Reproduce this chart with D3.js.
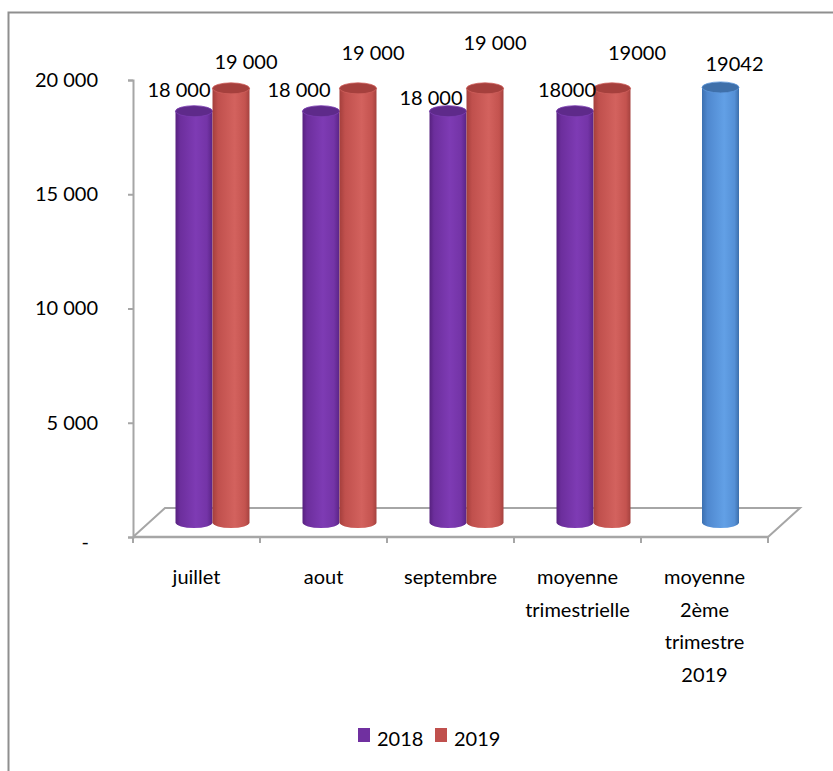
<!DOCTYPE html>
<html>
<head>
<meta charset="utf-8">
<script src="https://cdn.jsdelivr.net/npm/d3@7"></script>
<style>
  html, body { margin: 0; padding: 0; background: #fff; }
  svg { display: block; }
  text { font-family: Lato, "Liberation Sans", Arial, sans-serif; fill: #000; }
</style>
</head>
<body>
<svg id="chart" width="833" height="771"></svg>
<script>
// ---- data ----
const categories = ["juillet", "aout", "septembre", "moyenne\ntrimestrielle", "moyenne\n2ème\ntrimestre\n2019"];
const series2018 = [18000, 18000, 18000, 18000, null];
const series2019 = [19000, 19000, 19000, 19000, null];
const moyenne2019 = [null, null, null, null, 19042];
const groupedFormat = [true, true, true, false, false];
const yTicks = [0, 5000, 10000, 15000, 20000];
const legendLabels = ["2018", "2019"];

// label placement offsets (manual placement as in the original)
const labelOffset2018 = [[-15, -21], [-22, -21], [-17, -13], [-8, -21], null];
const labelOffset2019 = [[15, -26], [15, -35], [10, -45], [25, -35], null];
const labelOffsetMoy = [null, null, null, null, [14, -23]];

// ---- layout ----
const FONT = "Lato, 'Liberation Sans', Arial, sans-serif";
const svg = d3.select("#chart");
const axisX = 133, floorY = 537, topY = 80, rightX = 768;
const depth = { dx: 32, dy: -29 };
const mid = { dx: depth.dx / 2, dy: depth.dy / 2 };

const frFormat = d3.formatLocale({ decimal: ",", thousands: " ", grouping: [3] }).format(",");
const fmt = (v, i) => groupedFormat[i] ? frFormat(v) : String(v);

// frame
svg.append("rect").attr("x", 8.5).attr("y", 12.5).attr("width", 900).attr("height", 900)
  .attr("fill", "none").attr("stroke", "#8f8f8f").attr("stroke-width", 2);

const x = d3.scaleBand().domain(d3.range(categories.length)).range([axisX, rightX]).padding(0);
const y = d3.scaleLinear().domain([0, 20000]).range([floorY, topY]);
const inner = d3.scaleBand().domain(["2018", "2019"]).range([-37, 37]).padding(0);

const grey = "#a6a6a6";

// floor
svg.append("path")
  .attr("d", `M${axisX},${floorY} L${axisX + depth.dx},${floorY + depth.dy} L${rightX + depth.dx},${floorY + depth.dy} L${rightX},${floorY}`)
  .attr("fill", "none").attr("stroke", grey).attr("stroke-width", 2);

// y axis
const yAxis = d3.axisLeft(y).tickValues(yTicks).tickSize(5).tickPadding(30)
  .tickFormat(d => d === 0 ? "-" : frFormat(d));
const ya = svg.append("g").attr("transform", `translate(${axisX},0)`).call(yAxis);
ya.select(".domain").attr("stroke", grey).attr("stroke-width", 2);
ya.selectAll(".tick line").attr("stroke", grey).attr("stroke-width", 2);
ya.selectAll(".tick text").attr("font-size", 20).attr("font-family", FONT).attr("fill", "#000");
ya.selectAll(".tick").filter(d => d === 0).select("text").attr("dx", -9).attr("dy", "0.55em");

// x axis front line + ticks
svg.append("line").attr("x1", axisX).attr("x2", rightX).attr("y1", floorY).attr("y2", floorY)
  .attr("stroke", grey).attr("stroke-width", 2.5);
const bounds = d3.range(categories.length + 1).map(i => i < categories.length ? x(i) : x(i - 1) + x.bandwidth());
svg.selectAll(".xtick").data(bounds).join("line").attr("class", "xtick")
  .attr("x1", d => d).attr("x2", d => d).attr("y1", floorY).attr("y2", floorY + 6)
  .attr("stroke", grey).attr("stroke-width", 2);

// category labels
const catG = svg.selectAll(".cat").data(categories).join("text").attr("class", "cat")
  .attr("text-anchor", "middle").attr("font-size", 20)
  .attr("transform", (d, i) => `translate(${x(i) + x.bandwidth() / 2},584)`);
catG.selectAll("tspan").data(d => d.split("\n")).join("tspan")
  .attr("x", 0).attr("dy", (d, j) => j === 0 ? 0 : 32.5).text(d => d);

// gradients
const defs = svg.append("defs");
function grad(id, stops) {
  const g = defs.append("linearGradient").attr("id", id).attr("x1", 0).attr("x2", 1).attr("y1", 0).attr("y2", 0);
  stops.forEach(s => g.append("stop").attr("offset", s[0]).attr("stop-color", s[1]));
}
grad("gPurple", [[0, "#57217f"], [0.12, "#6c2e9c"], [0.55, "#7e3bb4"], [0.85, "#7434a7"], [1, "#5a2486"]]);
grad("gRed", [[0, "#a43f3c"], [0.15, "#c0504d"], [0.6, "#d3625e"], [0.88, "#c4534f"], [1, "#a5423f"]]);
grad("gBlue", [[0, "#3c70b0"], [0.15, "#4f88cf"], [0.6, "#62a0e6"], [0.88, "#5590d6"], [1, "#3d6fab"]]);

const styles = {
  "2018": { fill: "url(#gPurple)", top: "#5e2a8a", rim: "#7a3cb0" },
  "2019": { fill: "url(#gRed)", top: "#a5403d", rim: "#cf605c" },
  "moy": { fill: "url(#gBlue)", top: "#3f70aa", rim: "#5d97dc" }
};

const bars = [];
categories.forEach((c, i) => {
  if (series2018[i] != null) bars.push({ i, key: "2018", v: series2018[i], cx: x(i) + x.bandwidth() / 2 + mid.dx + inner("2018") + inner.bandwidth() / 2, off: labelOffset2018[i] });
  if (series2019[i] != null) bars.push({ i, key: "2019", v: series2019[i], cx: x(i) + x.bandwidth() / 2 + mid.dx + inner("2019") + inner.bandwidth() / 2, off: labelOffset2019[i] });
  if (moyenne2019[i] != null) bars.push({ i, key: "moy", v: moyenne2019[i], cx: x(i) + x.bandwidth() / 2 + mid.dx, off: labelOffsetMoy[i] });
});

const w = inner.bandwidth();
const rx = w / 2, ry = 5.5;
const barG = svg.selectAll(".bar").data(bars).join("g").attr("class", "bar");
barG.each(function (d) {
  const g = d3.select(this);
  const st = styles[d.key];
  const yb = y(0) + mid.dy, yt = y(d.v) + mid.dy;
  g.append("path")
    .attr("d", `M${d.cx - rx},${yt} L${d.cx - rx},${yb} A${rx},${ry} 0 0 0 ${d.cx + rx},${yb} L${d.cx + rx},${yt} Z`)
    .attr("fill", st.fill);
  g.append("ellipse").attr("cx", d.cx).attr("cy", yt).attr("rx", rx).attr("ry", ry)
    .attr("fill", st.top).attr("stroke", st.rim).attr("stroke-width", 0.8);
});

// value labels
svg.selectAll(".vlabel").data(bars).join("text").attr("class", "vlabel")
  .attr("text-anchor", "middle").attr("font-size", 20)
  .attr("x", d => d.cx + d.off[0])
  .attr("y", d => y(d.v) + mid.dy + d.off[1] + 7)
  .text(d => fmt(d.v, d.i));

// legend
const legendColors = ["#7030a0", "#c0504d"];
const lg = svg.selectAll(".leg").data(legendLabels).join("g").attr("class", "leg")
  .attr("transform", (d, i) => `translate(${358 + i * 77},728)`);
lg.append("rect").attr("width", 12).attr("height", 14).attr("fill", (d, i) => legendColors[i]);
lg.append("text").attr("x", 19).attr("y", 18).attr("font-size", 20).text(d => d);
</script>
</body>
</html>
